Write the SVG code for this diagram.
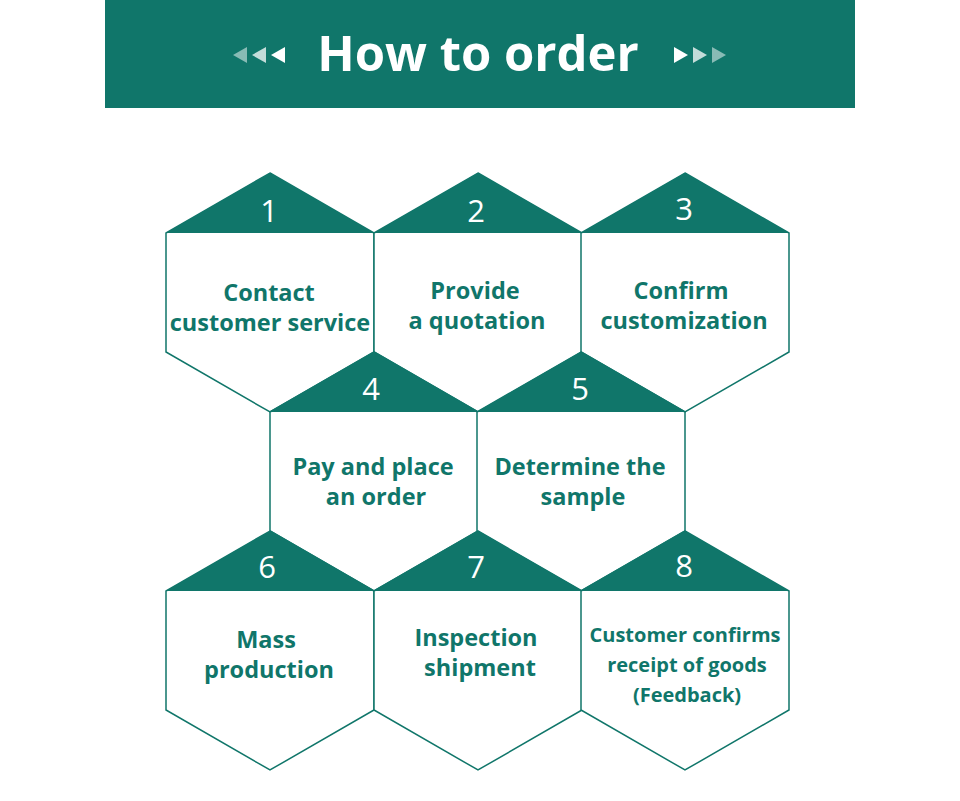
<svg xmlns="http://www.w3.org/2000/svg" width="960" height="801" viewBox="0 0 960 801">
<style>
.hex{fill:#fff;stroke:#10766a;stroke-width:1.5;stroke-linejoin:miter}
.tri{fill:#10766a}
.num{font-family:"Open Sans","Noto Sans",sans-serif;font-size:31px;fill:#fff;text-anchor:middle}
.lbl{font-family:"Open Sans","Noto Sans",sans-serif;font-weight:bold;font-size:23.5px;fill:#10766a;text-anchor:middle}
.sm{font-size:20px}
.title{font-family:"Open Sans","Noto Sans",sans-serif;font-weight:bold;font-size:49px;fill:#fff;text-anchor:middle}
</style>
<defs>
<g id="hx">
<path class="hex" d="M0,0 L104,60 L104,179 L0,239 L-104,179 L-104,60 Z"/>
<path class="tri" d="M0,0 L104,60 L-104,60 Z"/>
</g>
</defs>
<rect width="960" height="801" fill="#fff"/>
<g id="header">
<rect x="105" y="0" width="750" height="108" fill="#10766a"/>
<text class="title" x="478" y="71">How to order</text>
<g fill="#fff">
<polygon points="233,55 247,47 247,63" opacity="0.5"/>
<polygon points="252,55 266,47 266,63" opacity="0.75"/>
<polygon points="271,55 285,47 285,63"/>
<polygon points="688,55 674,47 674,63"/>
<polygon points="707,55 693,47 693,63" opacity="0.75"/>
<polygon points="726,55 712,47 712,63" opacity="0.5"/>
</g>
</g>
<g id="connectors"></g>
<g id="node1">
<use href="#hx" x="270" y="173"/>
<text class="num" x="269" y="222">1</text>
<text class="lbl" x="269" y="301">Contact</text>
<text class="lbl" x="270" y="331">customer service</text>
</g>
<g id="node2">
<use href="#hx" x="478" y="173"/>
<text class="num" x="476" y="222">2</text>
<text class="lbl" x="475" y="299">Provide</text>
<text class="lbl" x="477" y="329">a quotation</text>
</g>
<g id="node3">
<use href="#hx" x="685" y="173"/>
<text class="num" x="684" y="220">3</text>
<text class="lbl" x="681" y="299">Confirm</text>
<text class="lbl" x="684" y="329">customization</text>
</g>
<g id="node4">
<use href="#hx" x="374" y="352"/>
<text class="num" x="371" y="400">4</text>
<text class="lbl" x="373" y="475">Pay and place</text>
<text class="lbl" x="376" y="505">an order</text>
</g>
<g id="node5">
<use href="#hx" x="581" y="352"/>
<text class="num" x="580" y="400">5</text>
<text class="lbl" x="580" y="475">Determine the</text>
<text class="lbl" x="583" y="505">sample</text>
</g>
<g id="node6">
<use href="#hx" x="270" y="531"/>
<text class="num" x="267" y="578">6</text>
<text class="lbl" x="266" y="648">Mass</text>
<text class="lbl" x="269" y="678">production</text>
</g>
<g id="node7">
<use href="#hx" x="478" y="531"/>
<text class="num" x="476" y="578">7</text>
<text class="lbl" x="476" y="646">Inspection</text>
<text class="lbl" x="480" y="676">shipment</text>
</g>
<g id="node8">
<use href="#hx" x="685" y="531"/>
<text class="num" x="684" y="577">8</text>
<text class="lbl sm" x="685" y="642">Customer confirms</text>
<text class="lbl sm" x="687" y="672">receipt of goods</text>
<text class="lbl sm" x="687" y="702">(Feedback)</text>
</g>
</svg>
